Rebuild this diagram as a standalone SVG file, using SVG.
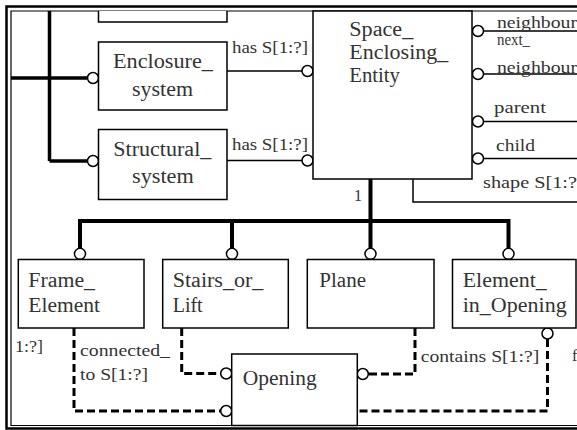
<svg xmlns="http://www.w3.org/2000/svg" width="577" height="430" viewBox="0 0 577 430">
<defs>
<style>
.box{fill:#fff;stroke:#000;stroke-width:1.5}
.thin{fill:none;stroke:#000;stroke-width:1.5}
.thick{fill:none;stroke:#000;stroke-width:4}
.dash{fill:none;stroke:#000;stroke-width:3;stroke-dasharray:8 4}
.end{fill:#fff;stroke:#000;stroke-width:1.5}
text{font-family:"Liberation Serif","Times New Roman",serif;fill:#333}
.n{font-size:20px}
.l{font-size:16px}
</style>
</defs>
<rect width="577" height="430" fill="#fff"/>
<g id="frame">
<path d="M577 6.5 H6.5 V428.5 H577" fill="none" stroke="#000" stroke-width="2.5"/>
<path d="M577 11 H11 V425.5 H577" fill="none" stroke="#000" stroke-width="1.2"/>
</g>
<g id="connectors">
<path class="thick" style="stroke-width:3.5" d="M49.5 11 V161 M11 78 H87.5 M49.5 161 H87.5"/>
<path class="thin" d="M227 71 H302 M227 160.5 H302"/>
<path class="thin" d="M483.5 31 H577 M483.5 74 H577 M483.5 121.5 H577 M483.5 158.5 H577"/>
<path class="thin" d="M413 179 V202 H577"/>
<path class="thick" d="M370.5 179 V221 M80 248.5 V221 H508.5 V248.5 M232 221 V248.5 M370.5 221 V248.5"/>
<path class="dash" d="M74 328 V411 H220.7"/>
<path class="dash" d="M181.7 328 V373.5 H220.7"/>
<path class="dash" d="M415 328 V374 H368.3"/>
<path class="dash" d="M547.5 339 V411 H357.3"/>
<circle class="end" cx="93" cy="78" r="5.5"/>
<circle class="end" cx="93" cy="161" r="5.5"/>
<circle class="end" cx="307.5" cy="71" r="5.5"/>
<circle class="end" cx="307.5" cy="160.5" r="5.5"/>
<circle class="end" cx="478" cy="31" r="5.5"/>
<circle class="end" cx="478" cy="74" r="5.5"/>
<circle class="end" cx="478" cy="121.5" r="5.5"/>
<circle class="end" cx="478" cy="158.5" r="5.5"/>
<circle class="end" cx="80" cy="253.8" r="5.5"/>
<circle class="end" cx="232" cy="253.8" r="5.5"/>
<circle class="end" cx="370.5" cy="253.8" r="5.5"/>
<circle class="end" cx="508.5" cy="253.8" r="5.5"/>
<circle class="end" cx="547.5" cy="333.5" r="5.5"/>
<circle class="end" cx="226.2" cy="373.5" r="5.5"/>
<circle class="end" cx="226.2" cy="411" r="5.5"/>
<circle class="end" cx="362.8" cy="374" r="5.5"/>
<text class="l" x="232" y="53" textLength="76" lengthAdjust="spacingAndGlyphs">has S[1:?]</text>
<text class="l" x="232" y="149.5" textLength="76" lengthAdjust="spacingAndGlyphs">has S[1:?]</text>
<text class="l" x="497" y="28" textLength="80" lengthAdjust="spacingAndGlyphs">neighbour</text>
<text class="l" x="497" y="44.5" textLength="33" lengthAdjust="spacingAndGlyphs">next_</text>
<text class="l" x="497" y="72.5" textLength="80" lengthAdjust="spacingAndGlyphs">neighbour</text>
<text class="l" x="494" y="113" textLength="52" lengthAdjust="spacingAndGlyphs">parent</text>
<text class="l" x="496" y="150.5" textLength="39" lengthAdjust="spacingAndGlyphs">child</text>
<text class="l" x="483" y="188" textLength="94" lengthAdjust="spacingAndGlyphs">shape S[1:?</text>
<text class="l" x="354" y="201">1</text>
<text class="l" x="15" y="352" textLength="28" lengthAdjust="spacingAndGlyphs">1:?]</text>
<text class="l" x="80" y="356" textLength="90" lengthAdjust="spacingAndGlyphs">connected_</text>
<text class="l" x="80" y="379.5" textLength="68" lengthAdjust="spacingAndGlyphs">to S[1:?]</text>
<text class="l" x="420.7" y="362" textLength="118.5" lengthAdjust="spacingAndGlyphs">contains S[1:?]</text>
<text class="l" x="572" y="361">f</text>
</g>
<g id="node-top">
<path class="box" d="M98.5 11 V22 H227 V11"/>
</g>
<g id="node-enclosure-system">
<rect class="box" x="98.5" y="42" width="128.5" height="68"/>
<text class="n" x="113" y="68" textLength="100" lengthAdjust="spacingAndGlyphs">Enclosure_</text>
<text class="n" x="132" y="96" textLength="61" lengthAdjust="spacingAndGlyphs">system</text>
</g>
<g id="node-structural-system">
<rect class="box" x="98.5" y="129.5" width="128.5" height="70"/>
<text class="n" x="113.3" y="156" textLength="98" lengthAdjust="spacingAndGlyphs">Structural_</text>
<text class="n" x="132" y="183" textLength="61.7" lengthAdjust="spacingAndGlyphs">system</text>
</g>
<g id="node-space-enclosing-entity">
<rect class="box" x="313" y="11" width="159" height="168"/>
<text class="n" x="349.3" y="35.5" textLength="64" lengthAdjust="spacingAndGlyphs">Space_</text>
<text class="n" x="349.3" y="58.5" textLength="99" lengthAdjust="spacingAndGlyphs">Enclosing_</text>
<text class="n" x="349.3" y="81.5" textLength="50.7" lengthAdjust="spacingAndGlyphs">Entity</text>
</g>
<g id="node-frame-element">
<rect class="box" x="18.3" y="259.5" width="125.7" height="68.5"/>
<text class="n" x="28.3" y="287.3" textLength="66.7" lengthAdjust="spacingAndGlyphs">Frame_</text>
<text class="n" x="28.3" y="311.7" textLength="71.7" lengthAdjust="spacingAndGlyphs">Element</text>
</g>
<g id="node-stairs-or-lift">
<rect class="box" x="162.7" y="259.5" width="125.6" height="68.5"/>
<text class="n" x="172.7" y="287.3" textLength="90.7" lengthAdjust="spacingAndGlyphs">Stairs_or_</text>
<text class="n" x="172.7" y="311.7" textLength="30" lengthAdjust="spacingAndGlyphs">Lift</text>
</g>
<g id="node-plane">
<rect class="box" x="307.3" y="259.5" width="126.7" height="68.5"/>
<text class="n" x="319.3" y="287.3" textLength="46.7" lengthAdjust="spacingAndGlyphs">Plane</text>
</g>
<g id="node-element-in-opening">
<rect class="box" x="452.5" y="259.5" width="123.5" height="68.5"/>
<text class="n" x="462.7" y="287.3" textLength="84" lengthAdjust="spacingAndGlyphs">Element_</text>
<text class="n" x="462.7" y="312" textLength="104" lengthAdjust="spacingAndGlyphs">in_Opening</text>
</g>
<g id="node-opening">
<rect class="box" x="231.7" y="354" width="125.6" height="71.5"/>
<text class="n" x="242.7" y="385" textLength="74" lengthAdjust="spacingAndGlyphs">Opening</text>
</g>
</svg>
